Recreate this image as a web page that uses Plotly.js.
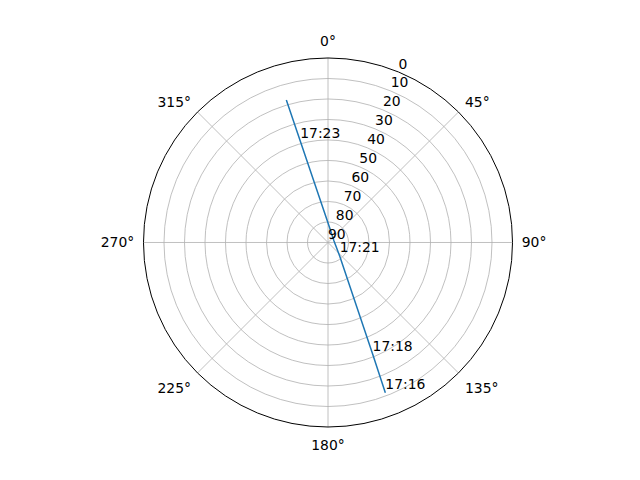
<!DOCTYPE html>
<html>
<head>
<meta charset="utf-8">
<script src="https://cdn.plot.ly/plotly-3.0.1.min.js"></script>
<style>
  html, body { margin: 0; padding: 0; background: #fff; }
  #plot { width: 640px; height: 480px; }
</style>
</head>
<body>
<div id="plot"></div>
<script>
// satellite track: azimuth (deg, clockwise from north) and elevation (deg)
var azimuth   = [159.1, 158.2, 139.1, 71.0, 10.9, 344.7, 343.7]
var elevation = [11.6, 31.4, 81.3, 87.0, 83.8, 38.7, 17.6]

// time labels along the track
var labelTimes = ["17:16", "17:18", "17:21", "17:23"]
var labelAz    = [159.1, 158.2, 139.1, 344.7]
var labelEl    = [11.6, 31.4, 81.3, 38.7]

var radialTicks = [0, 10, 20, 30, 40, 50, 60, 70, 80, 90]
var radialLabelAz = 22.5
var angleTicks  = [0, 45, 90, 135, 180, 225, 270, 315]

var font = {family: "DejaVu Sans", size: 13.9, color: "#000"}

var track = {
    type: "scatterpolar",
    mode: "lines",
    theta: azimuth,
    r: elevation,
    line: {color: "#1f77b4", width: 1.5},
    hoverinfo: "skip"
}

var times = {
    type: "scatterpolar",
    mode: "text",
    theta: labelAz,
    r: labelEl,
    text: labelTimes,
    textposition: "top right",
    textfont: font,
    hoverinfo: "skip"
}

// radial tick labels, matplotlib style (left-bottom anchored at 22.5 deg)
var rlabels = {
    type: "scatterpolar",
    mode: "text",
    theta: radialTicks.map(function () { return radialLabelAz }),
    r: radialTicks,
    text: radialTicks.map(String),
    textposition: "top right",
    textfont: font,
    cliponaxis: false,
    hoverinfo: "skip"
}

var layout = {
    width: 640,
    height: 480,
    margin: {l: 0, r: 0, t: 0, b: 0},
    showlegend: false,
    paper_bgcolor: "#fff",
    font: font,
    polar: {
        domain: {x: [0.2242, 0.8008], y: [0.1104, 0.8792]},
        bgcolor: "#fff",
        angularaxis: {
            rotation: 90,
            direction: "clockwise",
            tickmode: "array",
            tickvals: angleTicks,
            ticktext: angleTicks.map(function (a) { return a + "°" }),
            ticks: "outside",
            ticklen: 6,
            tickcolor: "rgba(0,0,0,0)",
            showline: true,
            linecolor: "#000",
            linewidth: 1,
            gridcolor: "#b0b0b0",
            gridwidth: 0.8,
            tickfont: font
        },
        radialaxis: {
            range: [90, 0],
            angle: 67.5,
            tickmode: "array",
            tickvals: radialTicks,
            ticks: "",
            showline: false,
            showticklabels: false,
            gridcolor: "#b0b0b0",
            gridwidth: 0.8
        }
    }
}

Plotly.newPlot("plot", [track, rlabels, times], layout, {staticPlot: true})
</script>
</body>
</html>
